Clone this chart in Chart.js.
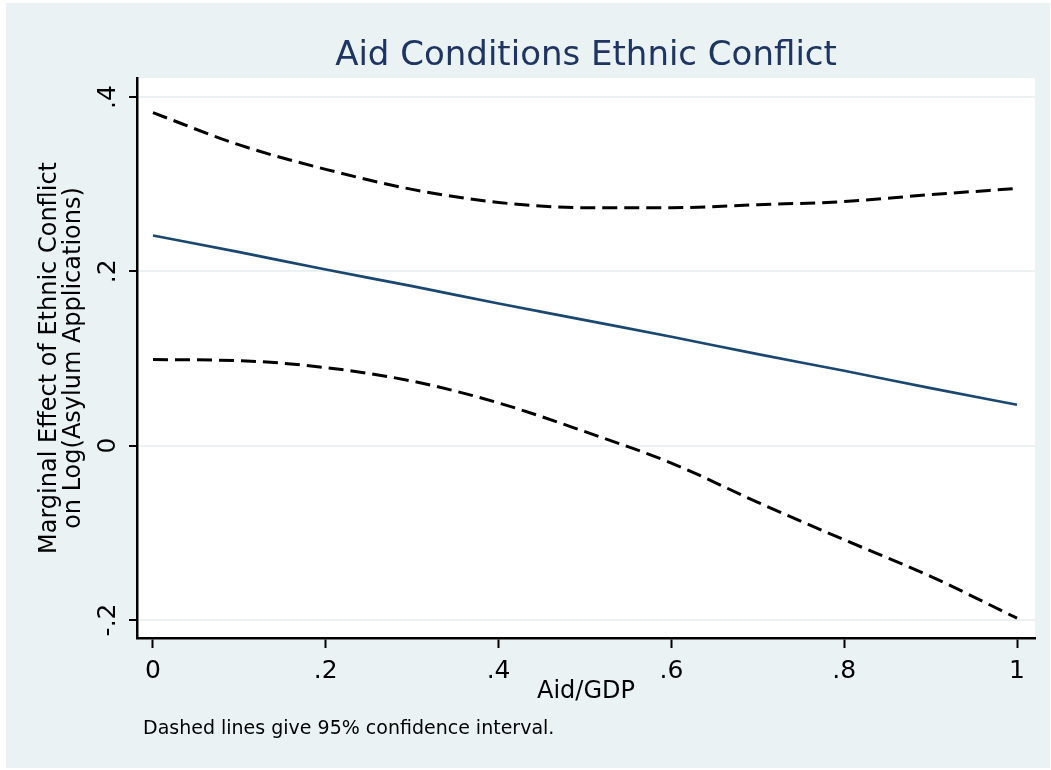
<!DOCTYPE html>
<html>
<head>
<meta charset="utf-8">
<title>Aid Conditions Ethnic Conflict</title>
<script src="https://cdn.jsdelivr.net/npm/chart.js@4.4.1/dist/chart.umd.min.js"></script>
<style>
  html, body { margin: 0; padding: 0; background: #ffffff; }
  #wrap { width: 1051px; height: 770px; position: relative; }
</style>
</head>
<body>
<div id="wrap"><canvas id="c"></canvas></div>
<script>
// Marginal effect of ethnic conflict across Aid/GDP, with 95% bounds
const aidGdp         = [0, 0.1, 0.2, 0.3, 0.4, 0.5, 0.6, 0.7, 0.8, 0.9, 1.0];
const marginalEffect = [0.241, 0.222, 0.202, 0.183, 0.163, 0.144, 0.125, 0.105, 0.086, 0.066, 0.047];
const ciUpper        = [0.382, 0.345, 0.317, 0.294, 0.279, 0.273, 0.273, 0.2765, 0.280, 0.288, 0.295];
const ciLower        = [0.0987, 0.0975, 0.0895, 0.074, 0.049, 0.016, -0.020, -0.065, -0.108, -0.150, -0.198];

const xTickValues = [0, 0.2, 0.4, 0.6, 0.8, 1];
const yTickValues = [-0.2, 0, 0.2, 0.4];

const chartTitle = 'Aid Conditions Ethnic Conflict';
const xAxisTitle = 'Aid/GDP';
const yAxisTitle = ['Marginal Effect of Ethnic Conflict', 'on Log(Asylum Applications)'];
const noteText   = 'Dashed lines give 95% confidence interval.';

const FONT = '"DejaVu Sans", "Liberation Sans", sans-serif';
const REGION_BG = '#eaf2f3';

// Stata-style numbers: drop the leading zero (".2", "-.2")
function shortNum(v) {
  if (Math.abs(v) < 1e-9) return '0';
  return String(+v.toFixed(4)).replace(/^(-?)0\./, '$1.');
}

function pts(ys) { return aidGdp.map((x, i) => ({ x: x, y: ys[i] })); }

const framePlugin = {
  id: 'frame',
  beforeDraw(chart) {
    const ctx = chart.ctx, a = chart.chartArea;
    ctx.save();
    ctx.fillStyle = '#ffffff';
    ctx.fillRect(0, 0, chart.width, chart.height);
    ctx.fillStyle = REGION_BG;
    ctx.fillRect(6, 3, chart.width - 7, chart.height - 5);
    ctx.fillStyle = '#ffffff';
    ctx.fillRect(a.left, a.top, a.right - a.left, a.bottom - a.top);
    ctx.restore();
  },
  afterDraw(chart) {
    const ctx = chart.ctx, a = chart.chartArea;
    const xs = chart.scales.x, ys = chart.scales.y;
    const cx = (a.left + a.right) / 2, cy = (a.top + a.bottom) / 2;
    ctx.save();
    ctx.fillStyle = '#000000';

    // x tick labels
    ctx.font = '25px ' + FONT;
    ctx.textAlign = 'center';
    ctx.textBaseline = 'alphabetic';
    xTickValues.forEach(v => ctx.fillText(shortNum(v), xs.getPixelForValue(v), 678));

    // y tick labels, rotated
    yTickValues.forEach(v => {
      ctx.save();
      ctx.translate(115, ys.getPixelForValue(v));
      ctx.rotate(-Math.PI / 2);
      ctx.fillText(shortNum(v), 0, 0);
      ctx.restore();
    });

    // axis titles
    ctx.font = '24px ' + FONT;
    ctx.fillText(xAxisTitle, cx, 698);
    ctx.save();
    ctx.translate(0, cy);
    ctx.rotate(-Math.PI / 2);
    ctx.fillText(yAxisTitle[0], 0, 56);
    ctx.fillText(yAxisTitle[1], 0, 80);
    ctx.restore();

    // note
    ctx.font = '19px ' + FONT;
    ctx.textAlign = 'left';
    ctx.fillText(noteText, 143, 734);

    // title
    ctx.font = '34px ' + FONT;
    ctx.textAlign = 'center';
    ctx.fillStyle = '#1e3461';
    ctx.fillText(chartTitle, cx, 65);
    ctx.restore();
  }
};

new Chart(document.getElementById('c'), {
  type: 'line',
  data: {
    datasets: [
      {
        label: 'Marginal effect',
        data: pts(marginalEffect),
        borderColor: '#1a476f',
        borderWidth: 2.6,
        pointRadius: 0,
        cubicInterpolationMode: 'monotone'
      },
      {
        label: 'Upper 95%',
        data: pts(ciUpper),
        borderColor: '#000000',
        borderWidth: 3,
        borderDash: [15, 7],
        pointRadius: 0,
        cubicInterpolationMode: 'monotone'
      },
      {
        label: 'Lower 95%',
        data: pts(ciLower),
        borderColor: '#000000',
        borderWidth: 3,
        borderDash: [15, 7],
        pointRadius: 0,
        cubicInterpolationMode: 'monotone'
      }
    ]
  },
  options: {
    responsive: true,
    maintainAspectRatio: false,
    animation: false,
    layout: { padding: { top: 78, right: 16, left: 0, bottom: 0 } },
    plugins: {
      legend: { display: false },
      title: { display: false },
      tooltip: { enabled: false }
    },
    scales: {
      x: {
        type: 'linear',
        min: -0.0185,
        max: 1.0208,
        afterBuildTicks(s) { s.ticks = xTickValues.map(v => ({ value: v })); },
        afterFit(s) { s.height = 132; },
        ticks: { display: false },
        grid: {
          drawOnChartArea: false,
          drawTicks: true,
          tickLength: 10,
          tickColor: '#000000',
          tickWidth: 2
        },
        border: { display: true, color: '#000000', width: 2.5 }
      },
      y: {
        type: 'linear',
        min: -0.2207,
        max: 0.4218,
        afterBuildTicks(s) { s.ticks = yTickValues.map(v => ({ value: v })); },
        afterFit(s) { s.width = 137; },
        ticks: { display: false },
        grid: {
          color: REGION_BG,
          lineWidth: 2,
          drawTicks: true,
          tickLength: 8,
          tickColor: '#000000',
          tickWidth: 2
        },
        border: { display: true, color: '#000000', width: 2.5 }
      }
    }
  },
  plugins: [framePlugin]
});
</script>
</body>
</html>
